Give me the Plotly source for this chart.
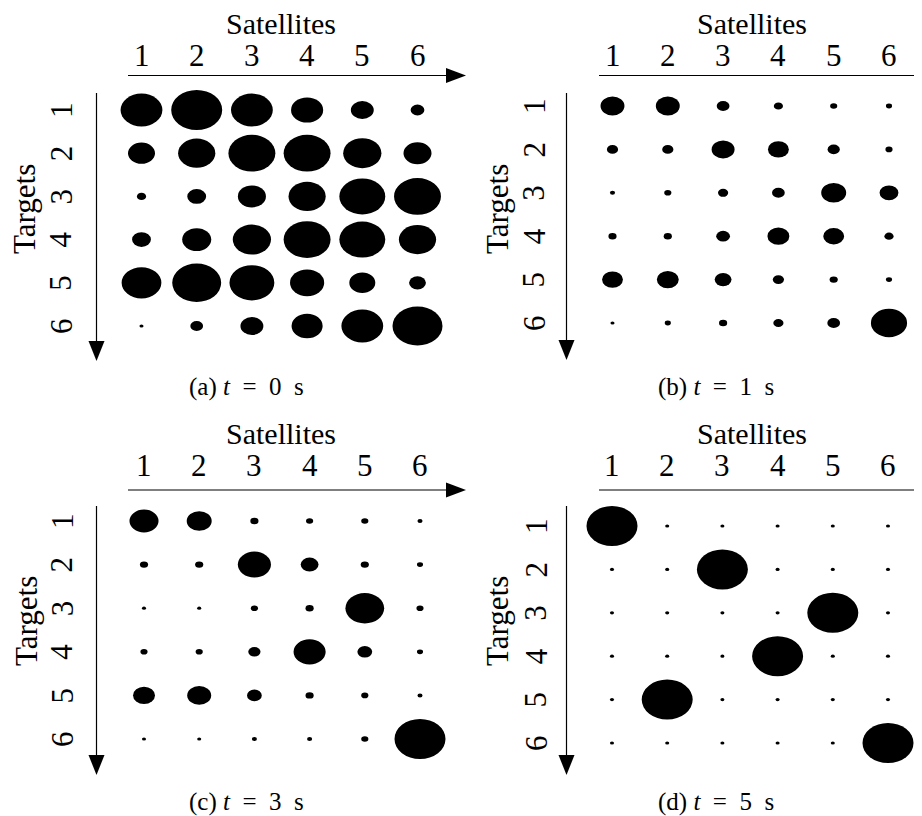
import plotly.graph_objects as go

# ---------------- data ----------------
satellites = ["1", "2", "3", "4", "5", "6"]
targets = ["1", "2", "3", "4", "5", "6"]
S1, S2 = "\u2005", "\u2002"
captions = [f"(a){S1}<i>t</i>{S2}={S2}0{S2}s", f"(b){S1}<i>t</i>{S2}={S2}1{S2}s",
            f"(c){S1}<i>t</i>{S2}={S2}3{S2}s", f"(d){S1}<i>t</i>{S2}={S2}5{S2}s"]

# relative ellipse size (1.0 = largest) ; rows = targets, cols = satellites
vals_t0 = [
    [0.82, 1.00, 0.82, 0.63, 0.45, 0.27],
    [0.53, 0.73, 0.92, 0.92, 0.75, 0.55],
    [0.18, 0.37, 0.55, 0.73, 0.90, 0.92],
    [0.37, 0.57, 0.75, 0.92, 0.90, 0.73],
    [0.78, 0.96, 0.88, 0.67, 0.51, 0.33],
    [0.08, 0.25, 0.45, 0.61, 0.82, 0.98],
]
vals_t1 = [
    [0.47, 0.47, 0.25, 0.18, 0.14, 0.12],
    [0.22, 0.22, 0.45, 0.41, 0.24, 0.14],
    [0.10, 0.14, 0.20, 0.25, 0.49, 0.37],
    [0.16, 0.16, 0.27, 0.43, 0.41, 0.18],
    [0.41, 0.43, 0.33, 0.22, 0.16, 0.12],
    [0.08, 0.12, 0.16, 0.20, 0.25, 0.71],
]
vals_t3 = [
    [0.57, 0.49, 0.16, 0.14, 0.14, 0.10],
    [0.16, 0.16, 0.65, 0.35, 0.16, 0.12],
    [0.08, 0.08, 0.14, 0.16, 0.76, 0.14],
    [0.14, 0.14, 0.24, 0.63, 0.29, 0.12],
    [0.43, 0.47, 0.29, 0.16, 0.14, 0.10],
    [0.08, 0.08, 0.10, 0.10, 0.14, 1.00],
]
vals_t5 = [
    [1.00, 0.08, 0.08, 0.08, 0.08, 0.08],
    [0.08, 0.08, 1.00, 0.08, 0.08, 0.08],
    [0.08, 0.08, 0.08, 0.08, 1.00, 0.08],
    [0.08, 0.08, 0.08, 1.00, 0.08, 0.08],
    [0.08, 1.00, 0.08, 0.08, 0.08, 0.08],
    [0.08, 0.08, 0.08, 0.08, 0.08, 1.00],
]
all_vals = [vals_t0, vals_t1, vals_t3, vals_t5]

# ---------------- layout geometry (pixels) ----------------
W, H = 922, 816
FONT = "Liberation Serif"
MAX_W = 51.0      # px width of a 1.0 ellipse
ASPECT = 1.275    # width / height

panels = [
    dict(col1=133.5, csp=55.2, row1=102, rsp=43.2, hy=67.5, hx0=120, htip=458, vx=88.5, vy0=85, vtip=353,
         sat=(273, 15), tar=(16, 201), rlx=53, digy=47, cap=(238, 379)),
    dict(col1=604.5, csp=55.3, row1=98, rsp=43.4, hy=67.5, hx0=591, htip=929, vx=558.5, vy0=85, vtip=352,
         sat=(744, 15), tar=(489, 201), rlx=526, digy=47, cap=(708, 379)),
    dict(col1=136, csp=55.2, row1=513, rsp=43.6, hy=482, hx0=120, htip=458, vx=88.5, vy0=498, vtip=767,
         sat=(273, 425), tar=(18, 613), rlx=54, digy=457, cap=(238, 794)),
    dict(col1=604, csp=55.2, row1=518, rsp=43.4, hy=482, hx0=591, htip=929, vx=558.5, vy0=498, vtip=767,
         sat=(744, 425), tar=(489, 613), rlx=528, digy=457, cap=(708, 794)),
]


def px(x):
    return x / W


def py(y):
    return 1 - y / H


fig = go.Figure()
shapes = []
annotations = []
layout_axes = {}

n = len(satellites)
for k, (p, vals) in enumerate(zip(panels, all_vals)):
    idx = "" if k == 0 else str(k + 1)
    xa, ya = "x" + idx, "y" + idx
    x_left = p["col1"] - 0.5 * p["csp"]
    x_right = p["col1"] + (n - 0.5) * p["csp"]
    y_top = p["row1"] - 0.5 * p["rsp"]
    y_bot = p["row1"] + (n - 0.5) * p["rsp"]
    layout_axes["xaxis" + idx] = dict(domain=[px(x_left), px(x_right)], range=[0.5, n + 0.5],
                                      visible=False, anchor=ya, fixedrange=True)
    layout_axes["yaxis" + idx] = dict(domain=[py(y_bot), py(y_top)], range=[n + 0.5, 0.5],
                                      visible=False, anchor=xa, fixedrange=True)
    fig.add_trace(go.Scatter(x=[1, n], y=[1, n], xaxis=xa, yaxis=ya, mode="markers",
                             marker=dict(opacity=0), hoverinfo="skip", showlegend=False))
    for i, row in enumerate(vals):
        for j, v in enumerate(row):
            wpx = v * MAX_W
            hpx = wpx / ASPECT
            dx = wpx / p["csp"] / 2
            dy = hpx / p["rsp"] / 2
            cx, cy = j + 1, i + 1
            shapes.append(dict(type="circle", xref=xa, yref=ya, x0=cx - dx, x1=cx + dx,
                               y0=cy - dy, y1=cy + dy, fillcolor="black", line=dict(width=0)))
    hl = 20
    hw = 7.5
    shapes.append(dict(type="line", xref="paper", yref="paper", x0=px(p["hx0"]), x1=px(p["htip"] - hl + 2),
                       y0=py(p["hy"]), y1=py(p["hy"]), line=dict(color="black", width=1.2)))
    shapes.append(dict(type="path", xref="paper", yref="paper",
                       path=f"M {px(p['htip'] - hl)} {py(p['hy'] - hw)} L {px(p['htip'])} {py(p['hy'])} "
                            f"L {px(p['htip'] - hl)} {py(p['hy'] + hw)} Z",
                       fillcolor="black", line=dict(width=0)))
    shapes.append(dict(type="line", xref="paper", yref="paper", x0=px(p["vx"]), x1=px(p["vx"]),
                       y0=py(p["vy0"]), y1=py(p["vtip"] - hl + 2), line=dict(color="black", width=1.2)))
    shapes.append(dict(type="path", xref="paper", yref="paper",
                       path=f"M {px(p['vx'] - 8)} {py(p['vtip'] - hl)} L {px(p['vx'])} {py(p['vtip'])} "
                            f"L {px(p['vx'] + 8)} {py(p['vtip'] - hl)} Z",
                       fillcolor="black", line=dict(width=0)))
    for j, lab in enumerate(satellites):
        annotations.append(dict(text=lab, x=j + 1, xref=xa, y=py(p["digy"]), yref="paper",
                                showarrow=False, xanchor="center", yanchor="middle",
                                font=dict(family=FONT, size=31, color="black")))
    for i, lab in enumerate(targets):
        annotations.append(dict(text=lab, x=px(p["rlx"]), xref="paper", y=i + 1, yref=ya,
                                showarrow=False, xanchor="center", yanchor="middle", textangle=-90,
                                font=dict(family=FONT, size=31, color="black")))
    annotations.append(dict(text="Satellites", x=px(p["sat"][0]), y=py(p["sat"][1]), xref="paper", yref="paper",
                            showarrow=False, xanchor="center", yanchor="middle",
                            font=dict(family=FONT, size=30, color="black")))
    annotations.append(dict(text="Targets", x=px(p["tar"][0]), y=py(p["tar"][1]), xref="paper", yref="paper",
                            showarrow=False, xanchor="center", yanchor="middle", textangle=-90,
                            font=dict(family=FONT, size=31, color="black")))
    annotations.append(dict(text=captions[k], x=px(p["cap"][0]), y=py(p["cap"][1]), xref="paper", yref="paper",
                            showarrow=False, xanchor="center", yanchor="middle",
                            font=dict(family=FONT, size=25, color="black")))

fig.update_layout(width=W, height=H, margin=dict(l=0, r=0, t=0, b=0),
                  paper_bgcolor="white", plot_bgcolor="white",
                  font=dict(family=FONT),
                  shapes=shapes, annotations=annotations, showlegend=False, **layout_axes)

fig.write_html("out.html", config={"displayModeBar": False})
